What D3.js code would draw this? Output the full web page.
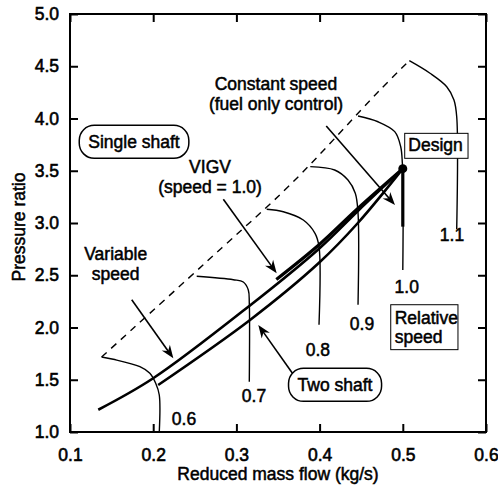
<!DOCTYPE html>
<html><head><meta charset="utf-8">
<script src="https://cdn.jsdelivr.net/npm/d3@7/dist/d3.min.js"></script>
<style>
html,body{margin:0;padding:0;background:#fff;}
text{font-family:"Liberation Sans",Arial,sans-serif;fill:#000;}
</style></head>
<body><svg id="c" width="498" height="494"></svg>
<script>
// ---- data (reduced mass flow kg/s, pressure ratio) ----
const xTicks = [0.1, 0.2, 0.3, 0.4, 0.5, 0.6];
const yTicks = [1.0, 1.5, 2.0, 2.5, 3.0, 3.5, 4.0, 4.5, 5.0];

const surgeLine = [[0.138,1.718],[0.2823,2.761],[0.3665,3.380],[0.4726,4.273],[0.5078,4.553]];

const speedLabels = ["0.6","0.7","0.8","0.9","1.0","1.1"];
const speed06 = [[0.138,1.718],[0.152,1.696],[0.184,1.625],[0.196,1.562],[0.203,1.466],[0.2073,1.354],[0.2073,1.0]];
const speed07 = [[0.2523,2.490],[0.2963,2.457],[0.3083,2.435],[0.3143,2.359],[0.3155,2.234],[0.3155,1.481]];
const speed08 = [[0.3364,3.131],[0.3564,3.108],[0.3804,3.029],[0.3945,2.901],[0.3993,2.773],[0.3993,2.027]];
const speed09 = [[0.3888,3.539],[0.4181,3.507],[0.4341,3.411],[0.4429,3.284],[0.4462,3.093],[0.4462,2.218]];
const speed10 = [[0.4462,4.024],[0.4702,3.969],[0.4903,3.874],[0.4975,3.730],[0.4995,3.571],[0.5,3.52],[0.5,2.55]];
const speed11 = [[0.5078,4.553],[0.5327,4.433],[0.5528,4.304],[0.5615,4.177],[0.5648,4.017],[0.5648,2.943]];
const speedLabelPos = [[0.237,1.067],[0.3212,1.290],[0.398,1.727],[0.451,1.979],[0.5047,2.330],[0.5591,2.831]];

const designPoint = [0.5, 3.52];
const singleShaft = [[0.134,1.213],[0.200,1.514],[0.3155,2.206],[0.399,2.752],[0.446,3.115],[0.5,3.52]];
const twoShaft = [[0.206,1.45],[0.316,2.07],[0.399,2.617],[0.446,3.0],[0.5,3.52]];
const vigvLine = [[0.348,2.46],[0.399,2.79],[0.446,3.14],[0.5,3.52]];
const constSpeed = [[0.5,3.52],[0.5,2.965]];

// annotation arrows: [from, to]
const arrows = [
  [[0.408,3.928],[0.4906,3.172]],   // constant speed
  [[0.2843,3.227],[0.3484,2.519]],  // VIGV
  [[0.1742,2.266],[0.2242,1.705]],  // variable speed
  [[0.368,1.555],[0.3263,2.024]]    // two shaft
];

const labels = [
  {t:["Constant speed","(fuel only control)"], p:[0.3476,4.2775]},
  {t:["VIGV","(speed = 1.0)"], p:[0.2683,3.476]},
  {t:["Variable","speed"], p:[0.1549,2.649]}
];
const labelGap = [20, 20, 20];
const pillBoxes = [
  {t:"Single shaft", p:[0.1769,3.715]},
  {t:"Two shaft", p:[0.4185,1.389]}
];
const squareBoxes = [
  {lines:["Design"], x0:0.5023, x1:0.5784, y0:3.858, y1:3.619, tx:0.5066, ty:3.689},
  {lines:["Relative","speed"], x0:0.4855, x1:0.5663, y0:2.218, y1:1.788, tx:0.4903, ty:2.033}
];

// ---- layout ----
const W = 498, H = 494;
const m = {l:70, r:12, t:14, b:62};
const svg = d3.select("#c");
const x = d3.scaleLinear().domain([0.1,0.6]).range([m.l, W-m.r]);
const y = d3.scaleLinear().domain([1.0,5.0]).range([H-m.b, m.t]);
const FS = 17.5, SW = 0.5;

const g = svg.append("g");
const tickLen = 8;
// frame
g.append("rect").attr("x",x(0.1)).attr("y",y(5)).attr("width",x(0.6)-x(0.1)).attr("height",y(1)-y(5))
 .attr("fill","none").attr("stroke","#000").attr("stroke-width",2);

const axB = d3.axisBottom(x).tickValues(xTicks).tickSize(-tickLen).tickPadding(17).tickFormat(d3.format(".1f"));
const axT = d3.axisTop(x).tickValues(xTicks).tickSize(-tickLen).tickFormat("");
const axL = d3.axisLeft(y).tickValues(yTicks).tickSize(-tickLen).tickPadding(11).tickFormat(d3.format(".1f"));
const axR = d3.axisRight(y).tickValues(yTicks).tickSize(-tickLen).tickFormat("");
[[axB,`translate(0,${y(1)})`],[axT,`translate(0,${y(5)})`],[axL,`translate(${x(0.1)},0)`],[axR,`translate(${x(0.6)},0)`]].forEach(([a,tr])=>{
  const s = g.append("g").attr("transform",tr).call(a);
  s.select(".domain").remove();
  s.selectAll(".tick line").attr("stroke","#000").attr("stroke-width",2);
  s.selectAll("text").style("font-size",FS+"px").style("font-family","Liberation Sans, Arial, sans-serif")
   .attr("fill","#000").attr("stroke","#000").attr("stroke-width",SW+0.1);
});

// axis titles
g.append("text").attr("x",(x(0.1)+x(0.6))/2).attr("y",480).attr("text-anchor","middle")
 .style("font-size",FS+"px").attr("stroke","#000").attr("stroke-width",SW).text("Reduced mass flow (kg/s)");
g.append("text").attr("transform",`translate(25,${(y(1)+y(5))/2+4}) rotate(-90)`).attr("text-anchor","middle")
 .style("font-size",FS+"px").attr("stroke","#000").attr("stroke-width",SW).text("Pressure ratio");

const line = d3.line().x(d=>x(d[0])).y(d=>y(d[1]));
const smooth = d3.line().x(d=>x(d[0])).y(d=>y(d[1])).curve(d3.curveCatmullRom);

// surge line
g.append("path").attr("d",smooth(surgeLine)).attr("fill","none").attr("stroke","#000")
 .attr("stroke-width",1.4).attr("stroke-dasharray","7,6");

// speed lines
[speed06,speed07,speed08,speed09,speed10,speed11].forEach(s=>{
  g.append("path").attr("d",smooth(s)).attr("fill","none").attr("stroke","#000").attr("stroke-width",1.4);
});
speedLabels.forEach((t,i)=>{
  g.append("text").attr("x",x(speedLabelPos[i][0])).attr("y",y(speedLabelPos[i][1])).attr("text-anchor","middle")
   .style("font-size",FS+"px").attr("stroke","#000").attr("stroke-width",SW).text(t);
});

// operating lines
g.append("path").attr("d",smooth(singleShaft)).attr("fill","none").attr("stroke","#000").attr("stroke-width",2.6);
g.append("path").attr("d",smooth(twoShaft)).attr("fill","none").attr("stroke","#000").attr("stroke-width",2.6);
g.append("path").attr("d",smooth(vigvLine)).attr("fill","none").attr("stroke","#000").attr("stroke-width",3.2);
g.append("path").attr("d",line(constSpeed)).attr("fill","none").attr("stroke","#000").attr("stroke-width",3.2);
g.append("circle").attr("cx",x(designPoint[0])).attr("cy",y(designPoint[1])).attr("r",4.5).attr("fill","#000");

// arrows
arrows.forEach(([a,b])=>{
  const x1=x(a[0]),y1=y(a[1]),x2=x(b[0]),y2=y(b[1]);
  const ang=Math.atan2(y2-y1,x2-x1);
  g.append("line").attr("x1",x1).attr("y1",y1).attr("x2",x2-Math.cos(ang)*6).attr("y2",y2-Math.sin(ang)*6)
   .attr("stroke","#000").attr("stroke-width",1.6);
  const L=13, Wd=5, N=9;
  const ux=Math.cos(ang), uy=Math.sin(ang), px=-uy, py=ux;
  const pts=[[x2,y2],[x2-ux*L+px*Wd,y2-uy*L+py*Wd],[x2-ux*N,y2-uy*N],[x2-ux*L-px*Wd,y2-uy*L-py*Wd]];
  g.append("path").attr("d","M"+pts.map(p=>p.join(",")).join("L")+"Z").attr("fill","#000");
});

// multi-line labels
labels.forEach((l,i)=>{
  const t=g.append("text").attr("x",x(l.p[0])).attr("y",y(l.p[1])).attr("text-anchor","middle")
   .style("font-size",FS+"px").attr("stroke","#000").attr("stroke-width",SW);
  l.t.forEach((s,j)=>t.append("tspan").attr("x",x(l.p[0])).attr("dy",j?labelGap[i]:0).text(s));
});
pillBoxes.forEach(b=>{
  const t=g.append("text").attr("x",x(b.p[0])).attr("y",y(b.p[1])).attr("text-anchor","middle")
   .style("font-size",FS+"px").attr("stroke","#000").attr("stroke-width",SW).text(b.t);
  const bb=t.node().getBBox();
  const w=bb.width+18, h=33;
  g.insert("rect",function(){return t.node();}).attr("x",bb.x+bb.width/2-w/2).attr("y",y(b.p[1])-23).attr("width",w).attr("height",h)
   .attr("rx",15).attr("ry",15).attr("fill","#fff").attr("stroke","#000").attr("stroke-width",1.5);
});
squareBoxes.forEach(b=>{
  g.append("rect").attr("x",x(b.x0)).attr("y",y(b.y0)).attr("width",x(b.x1)-x(b.x0)).attr("height",y(b.y1)-y(b.y0))
   .attr("fill","#fff").attr("stroke","#000").attr("stroke-width",1);
  const t=g.append("text").attr("x",x(b.tx)).attr("y",y(b.ty)).attr("text-anchor","start")
   .style("font-size",FS+"px").attr("stroke","#000").attr("stroke-width",SW);
  b.lines.forEach((s,j)=>t.append("tspan").attr("x",x(b.tx)).attr("dy",j?19:0).text(s));
});
</script></body></html>
